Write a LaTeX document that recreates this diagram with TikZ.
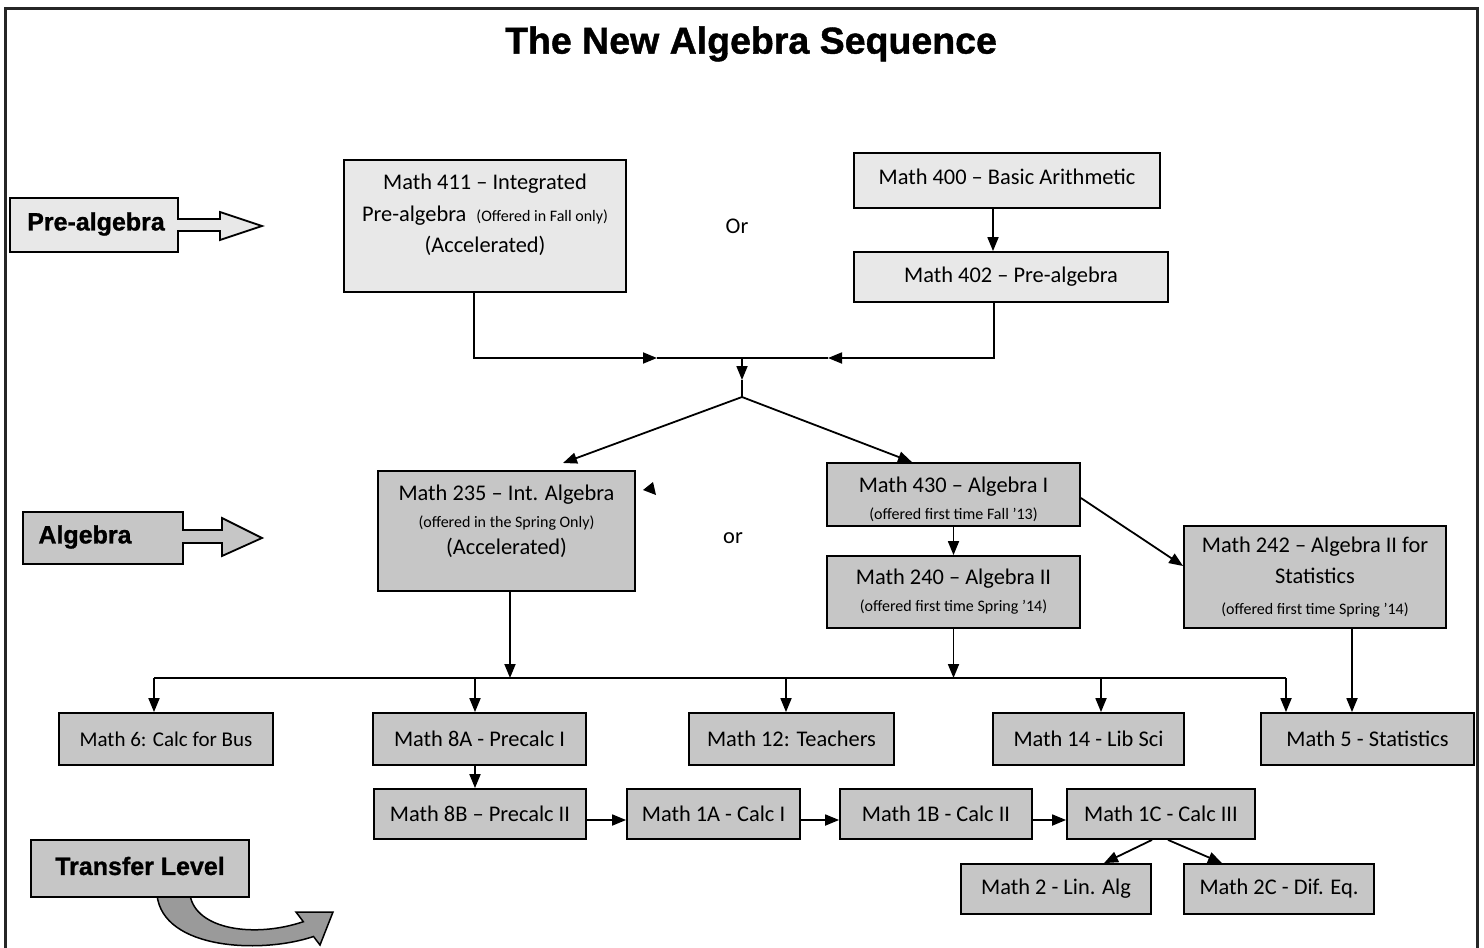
\documentclass[tikz,border=0pt]{standalone}
\usepackage{fontspec}
\setmainfont{Carlito}
\newfontfamily\hfont{Liberation Sans Bold}[FakeBold=1.1]
\usetikzlibrary{arrows.meta}
\definecolor{boxlight}{HTML}{E8E8E8}
\definecolor{boxdark}{HTML}{C6C6C6}
\definecolor{arrgray}{HTML}{9A9A9A}
\newcommand{\smt}{\fontsize{16}{19}\selectfont}
\begin{document}
\begin{tikzpicture}[x=1pt,y=-1pt,
  box/.style={draw=black, line width=1.8pt, inner sep=0pt, align=center, font=\fontsize{22.4}{27}\selectfont},
  lbox/.style={box, fill=boxlight},
  dbox/.style={box, fill=boxdark},
  txt/.style={inner sep=0pt, align=center, font=\fontsize{22.4}{27}\selectfont},
  con/.style={line width=1.8pt},
  arr/.style={con, -{Triangle[length=14pt,width=11pt]}},
  lvl/.style={inner sep=0pt, font=\hfont\fontsize{25}{28}\selectfont},
  blk/.style={draw=black, line width=1.8pt, line join=miter}]
\useasboundingbox (0,0) rectangle (1484,948);
% frame
\draw[line width=3pt, color=black!85] (5,948) -- (5,8) -- (1477,8) -- (1477,948);
% title
\node[inner sep=0pt, font=\hfont\fontsize{37.5}{40}\selectfont] (title) at (751,44) {The New Algebra Sequence};
% level arrows
\filldraw[blk, fill=boxlight] (10,198) -- (178,198) -- (178,219) -- (220,219) -- (220,212) -- (262,226) -- (220,240) -- (220,231) -- (178,231) -- (178,252) -- (10,252) -- cycle;
\node[lvl] (lpre) at (96,224) {Pre-algebra};
\filldraw[blk, fill=boxdark] (23,512) -- (183,512) -- (183,530) -- (222,530) -- (222,518) -- (262,538) -- (222,556) -- (222,543) -- (183,543) -- (183,564) -- (23,564) -- cycle;
\node[lvl] (lalg) at (85,537) {Algebra};
% transfer level
\filldraw[line width=1.5pt, fill=arrgray, line join=miter] (157,895) .. controls (163,950) and (262,954) .. (313.5,936.5) -- (320,945) -- (333,912) -- (296,912) -- (303.3,921.7) .. controls (255,938) and (196,930) .. (190,895) -- cycle;
\node[box, fill=boxdark, minimum width=218pt, minimum height=57pt] (tl) at (140,868.5) {};
\node[lvl] (ltl) at (140,866) {Transfer Level};
% pre-algebra boxes
\node[lbox, minimum width=282pt, minimum height=132pt] (m411) at (485,226) {};
\node[txt, font=\fontsize{22.4}{31.5}\selectfont] (m411t) at (485,215) {Math 411 -- Integrated\\Pre-algebra \ {\smt (Offered in Fall only)}\\(Accelerated)};
\node[txt] (or1) at (737,226) {Or};
\node[lbox, minimum width=306pt, minimum height=55pt] (m400) at (1007,180.5) {};
\node[txt] (m400t) at (1007,177) {Math 400 -- Basic Arithmetic};
\node[lbox, minimum width=314pt, minimum height=50pt] (m402) at (1011,277) {Math 402 -- Pre-algebra};
\draw[arr] ([xshift=-14pt]m400.south) -- ([xshift=-14pt]m400.south |- m402.north);
% junction
\coordinate (j) at (742,358);
\coordinate (jl) at (657,358);
\coordinate (jr) at (828,358);
\coordinate (jm) at (742,380);
\coordinate (jb) at (742,397);
\coordinate (t235) at (563,463);
\draw[arr] ([xshift=-11pt]m411.south) |- (jl);
\draw[con] (jl) -- (j);
\draw[arr] ([xshift=-17pt]m402.south) |- (jr);
\draw[con] (jr) -- (j);
\draw[arr] (j) -- (jm);
\draw[con] (jm) -- (jb);
% algebra boxes
\node[dbox, minimum width=257pt, minimum height=120pt] (m235) at (506.5,531) {};
\node[txt, font=\fontsize{22.4}{27}\selectfont] (m235t) at (506.5,521) {Math 235 -- Int. Algebra\\{\smt (offered in the Spring Only)}\\(Accelerated)};
\fill (643,490) -- (653,482) -- (656,495) -- cycle;
\node[txt] (or2) at (733,538) {or};
\node[dbox, minimum width=253pt, minimum height=63pt] (m430) at (953.5,494.5) {};
\node[txt] (m430t) at (953.5,499) {Math 430 -- Algebra I\\{\smt (offered first time Fall '13)}};
\node[dbox, minimum width=253pt, minimum height=72pt] (m240) at (953.5,592) {Math 240 -- Algebra II\\{\smt (offered first time Spring '14)}};
\node[dbox, minimum width=262pt, minimum height=102pt, font=\fontsize{22.4}{31}\selectfont] (m242) at (1315,577) {Math 242 -- Algebra II for\\Statistics\\{\smt (offered first time Spring '14)}};
\draw[arr] (jb) -- (t235);
\draw[arr] (jb) -- ([xshift=-41.5pt]m430.north);
\draw[arr] (m430.south) -- (m240.north);
\draw[arr] ([yshift=-3.5pt]m430.east) -- ([yshift=11pt]m242.west);
% transfer row 1
\node[dbox, minimum width=214pt, minimum height=52pt, font=\fontsize{21}{26}\selectfont] (m6) at (166,739) {Math 6: Calc for Bus};
\node[dbox, minimum width=213pt, minimum height=52pt] (m8a) at (479.5,739) {Math 8A - Precalc I};
\node[dbox, minimum width=205pt, minimum height=52pt] (m12) at (791.5,739) {Math 12: Teachers};
\node[dbox, minimum width=191pt, minimum height=52pt] (m14) at (1088.5,739) {Math 14 - Lib Sci};
\node[dbox, minimum width=213pt, minimum height=52pt] (m5) at (1367.5,739) {Math 5 - Statistics};
% bus
\coordinate (b1) at (154,678);
\coordinate (b2) at (475,678);
\coordinate (b3) at (786,678);
\coordinate (b4) at (1101,678);
\coordinate (b5) at (1286,678);
\draw[con] (b1) -- (b5);
\draw[arr] ([xshift=3.5pt]m235.south) -- ([xshift=3.5pt]m235.south |- b1);
\draw[arr] (m240.south) -- (m240.south |- b1);
\draw[arr] (b1) -- (b1 |- m6.north);
\draw[arr] (b2) -- (b2 |- m8a.north);
\draw[arr] (b3) -- (b3 |- m12.north);
\draw[arr] (b4) -- (b4 |- m14.north);
\draw[arr] (b5) -- (b5 |- m5.north);
\draw[arr] ([xshift=37pt]m242.south) -- ([xshift=37pt]m242.south |- m5.north);
% row 2
\node[dbox, minimum width=212pt, minimum height=50pt] (m8b) at (480,814) {Math 8B -- Precalc II};
\node[dbox, minimum width=173pt, minimum height=50pt] (m1a) at (713.5,814) {Math 1A - Calc I};
\node[dbox, minimum width=192pt, minimum height=50pt] (m1b) at (936,814) {Math 1B - Calc II};
\node[dbox, minimum width=188pt, minimum height=50pt] (m1c) at (1161,814) {Math 1C - Calc III};
\draw[arr] ([xshift=-4.5pt]m8a.south) -- ([xshift=-4.5pt]m8a.south |- m8b.north);
\draw[arr] ([yshift=-6pt]m8b.east) -- ([yshift=-6pt]m1a.west);
\draw[arr] ([yshift=-6pt]m1a.east) -- ([yshift=-6pt]m1b.west);
\draw[arr] ([yshift=-6pt]m1b.east) -- ([yshift=-6pt]m1c.west);
% row 3
\node[dbox, minimum width=190pt, minimum height=50pt] (m2) at (1056,889) {Math 2 - Lin. Alg};
\node[dbox, minimum width=190pt, minimum height=50pt] (m2c) at (1279,889) {Math 2C - Dif. Eq.};
\draw[arr] ([xshift=-9pt]m1c.south) -- ([xshift=48pt]m2.north);
\draw[arr] ([xshift=7pt]m1c.south) -- ([xshift=-57pt]m2c.north);
\end{tikzpicture}
\end{document}
